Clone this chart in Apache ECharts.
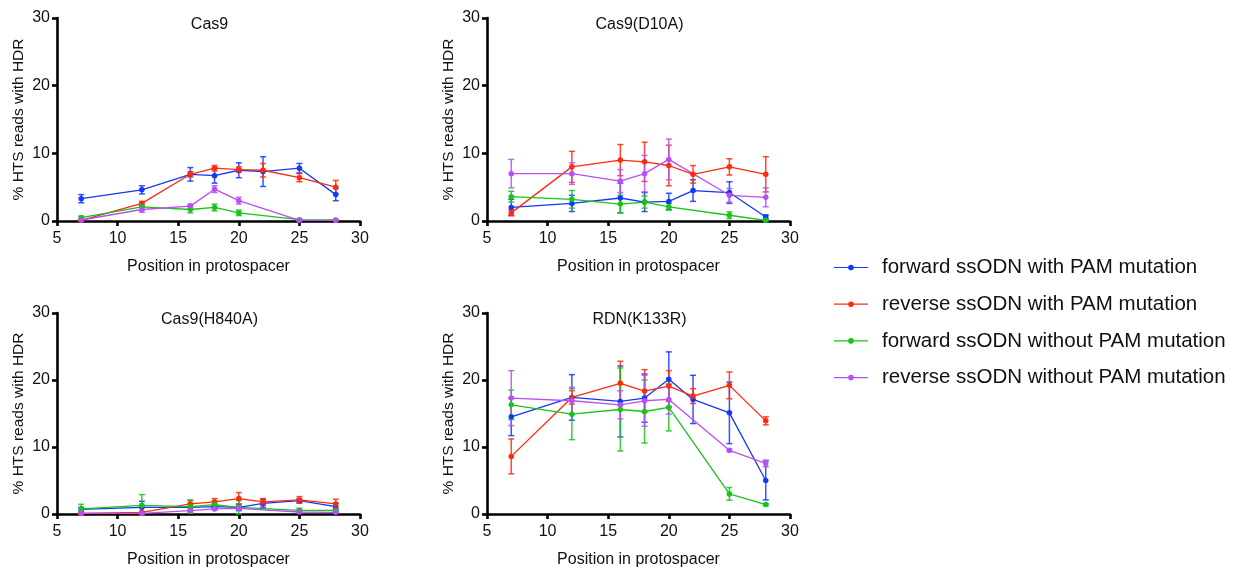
<!DOCTYPE html>
<html>
<head>
<meta charset="utf-8">
<script src="https://cdn.jsdelivr.net/npm/echarts@6/dist/echarts.min.js"></script>
<style>
  html, body { margin: 0; padding: 0; background: #fff; }
  #chart { width: 1237px; height: 569px; }
</style>
</head>
<body>
<div id="chart"></div>
<script>
// Positions along the protospacer that were tested
const positions = [7, 12, 16, 18, 20, 22, 25, 28];

const seriesNames = [
  'forward ssODN with PAM mutation',
  'reverse ssODN with PAM mutation',
  'forward ssODN without PAM mutation',
  'reverse ssODN without PAM mutation'
];

const panelTitles = ['Cas9', 'Cas9(D10A)', 'Cas9(H840A)', 'RDN(K133R)'];

const xTicks = [5, 10, 15, 20, 25, 30];
const yTicks = [0, 10, 20, 30];

// Mean % HTS reads with HDR (null = position not tested) and error (SD)
const cas9FwdPam = [3.3, 4.6, 6.9, 6.7, 7.5, 7.3, 7.8, 3.9];
const cas9FwdPamErr = [0.6, 0.6, 1.0, 1.1, 1.1, 2.2, 0.7, 0.9];
const cas9RevPam = [0.1, 2.6, 6.9, 7.8, 7.6, 7.5, 6.4, 5.0];
const cas9RevPamErr = [0.1, 0.3, 0.4, 0.4, 0.4, 1.0, 0.6, 1.0];
const cas9FwdNoPam = [0.5, 2.1, 1.7, 2.0, 1.2, null, 0.2, 0.15];
const cas9FwdNoPamErr = [0.2, 0.5, 0.5, 0.5, 0.4, null, 0.1, 0.05];
const cas9RevNoPam = [0.15, 1.7, 2.2, 4.7, 3.0, null, 0.1, 0.1];
const cas9RevNoPamErr = [0.1, 0.4, 0.3, 0.5, 0.5, null, 0.1, 0.05];

const d10aFwdPam = [2.0, 2.6, 3.4, 2.8, 2.9, 4.5, 4.2, 0.6];
const d10aFwdPamErr = [1.2, 1.2, 2.2, 1.4, 1.2, 1.6, 1.6, 0.3];
const d10aRevPam = [1.2, 8.0, 9.0, 8.75, 8.2, 6.9, 8.0, 6.9];
const d10aRevPamErr = [0.4, 2.3, 2.3, 2.9, 3.0, 1.3, 1.2, 2.6];
const d10aFwdNoPam = [3.6, 3.2, 2.5, 2.8, 2.1, null, 0.85, 0.1];
const d10aFwdNoPamErr = [0.8, 1.3, 1.3, 0.9, 0.5, null, 0.5, 0.1];
const d10aRevNoPam = [7.0, 7.0, 5.9, 7.0, 9.1, null, 3.8, 3.5];
const d10aRevNoPamErr = [2.1, 1.6, 1.7, 2.7, 3.0, null, 1.0, 1.4];

const h840aFwdPam = [0.7, 1.0, 1.0, 1.1, 1.0, 1.6, 2.0, 1.1];
const h840aFwdPamErr = [0.3, 0.9, 0.5, 0.4, 0.5, 0.6, 0.3, 0.5];
const h840aRevPam = [0.1, 0.25, 1.5, 1.8, 2.3, 1.8, 2.1, 1.5];
const h840aRevPamErr = [0.1, 0.1, 0.5, 0.5, 0.9, 0.5, 0.5, 0.7];
const h840aFwdNoPam = [0.75, 1.3, 1.1, 1.4, 1.0, null, 0.55, 0.55];
const h840aFwdNoPamErr = [0.7, 1.6, 1.0, 0.5, 1.0, null, 0.3, 0.2];
const h840aRevNoPam = [0.1, 0.1, 0.5, 0.75, 0.85, null, 0.3, 0.25];
const h840aRevNoPamErr = [0.1, 0.1, 0.2, 0.2, 0.2, null, 0.1, 0.1];

const rdnFwdPam = [14.5, 17.4, 16.8, 17.3, 20.1, 17.1, 15.1, 5.0];
const rdnFwdPamErr = [2.8, 3.4, 5.3, 3.6, 4.1, 3.6, 4.6, 2.9];
const rdnRevPam = [8.6, 17.4, 19.5, 18.35, 19.1, 17.6, 19.2, 13.9];
const rdnRevPamErr = [2.6, 1.0, 3.3, 3.2, 2.3, 1.1, 2.0, 0.6];
const rdnFwdNoPam = [16.3, 14.9, 15.6, 15.3, 15.9, null, 3.0, 1.4];
const rdnFwdNoPamErr = [2.2, 3.8, 6.2, 4.7, 3.5, null, 0.95, 0.15];
const rdnRevNoPam = [17.3, 16.9, 16.3, 16.9, 17.1, null, 9.5, 7.55];
const rdnRevNoPamErr = [4.1, 2.0, 2.1, 3.8, 2.2, null, 0.2, 0.5];

const panels = [
  [[cas9FwdPam, cas9FwdPamErr], [cas9RevPam, cas9RevPamErr], [cas9FwdNoPam, cas9FwdNoPamErr], [cas9RevNoPam, cas9RevNoPamErr]],
  [[d10aFwdPam, d10aFwdPamErr], [d10aRevPam, d10aRevPamErr], [d10aFwdNoPam, d10aFwdNoPamErr], [d10aRevNoPam, d10aRevNoPamErr]],
  [[h840aFwdPam, h840aFwdPamErr], [h840aRevPam, h840aRevPamErr], [h840aFwdNoPam, h840aFwdNoPamErr], [h840aRevNoPam, h840aRevNoPamErr]],
  [[rdnFwdPam, rdnFwdPamErr], [rdnRevPam, rdnRevPamErr], [rdnFwdNoPam, rdnFwdNoPamErr], [rdnRevNoPam, rdnRevNoPamErr]]
];

const colors = ['#1237ff', '#ff2a0d', '#17c417', '#b94ff2'];
const FONT = '"Liberation Sans", Arial, Helvetica, sans-serif';

// Panel plot areas (2 x 2 layout)
const gridBoxes = [
  { left: 57, top: 18 },
  { left: 487, top: 18 },
  { left: 57, top: 313 },
  { left: 487, top: 313 }
];
const PLOT_W = 303, PLOT_H = 203;

const grids = gridBoxes.map(b => ({ left: b.left, top: b.top, width: PLOT_W, height: PLOT_H, containLabel: false }));

const axisLine = { show: true, onZero: false, lineStyle: { color: '#000', width: 2.6 } };
const axisTick = { show: true, inside: false, length: 5, lineStyle: { color: '#000', width: 2.6 } };
const labelStyle = { color: '#111', fontSize: 16, fontFamily: FONT };

const xAxes = gridBoxes.map((b, i) => ({
  type: 'value', gridIndex: i, min: xTicks[0], max: xTicks[xTicks.length - 1], interval: 5,
  axisLine, axisTick, splitLine: { show: false },
  axisLabel: Object.assign({ margin: 10 }, labelStyle),
  name: 'Position in protospacer', nameLocation: 'middle', nameGap: 38,
  nameTextStyle: { color: '#111', fontSize: 16, fontFamily: FONT }
}));

const yAxes = gridBoxes.map((b, i) => ({
  type: 'value', gridIndex: i, min: yTicks[0], max: yTicks[yTicks.length - 1], interval: 10,
  axisLine, axisTick, splitLine: { show: false },
  axisLabel: Object.assign({ margin: 7 }, labelStyle),
  name: '% HTS reads with HDR', nameLocation: 'middle', nameGap: 30, nameRotate: 90,
  nameTextStyle: { color: '#111', fontSize: 15.5, fontFamily: FONT }
}));

const titles = gridBoxes.map((b, i) => ({
  text: panelTitles[i], left: b.left + PLOT_W / 2 - 4, top: b.top - 6, textAlign: 'center',
  textStyle: { color: '#111', fontSize: 16, fontWeight: 'normal', fontFamily: FONT }
}));

// Vertical error bar with end caps, positioned through the panel's axes
function errorBarRenderer(color) {
  return function (params, api) {
    const x = api.value(0);
    const top = api.coord([x, api.value(2)]);
    const bot = api.coord([x, api.value(1)]);
    const cap = 3;
    const style = { stroke: color, lineWidth: 1.5, opacity: 0.85 };
    return {
      type: 'group',
      children: [
        { type: 'line', shape: { x1: top[0], y1: top[1], x2: bot[0], y2: bot[1] }, style },
        { type: 'line', shape: { x1: top[0] - cap, y1: top[1], x2: top[0] + cap, y2: top[1] }, style },
        { type: 'line', shape: { x1: bot[0] - cap, y1: bot[1], x2: bot[0] + cap, y2: bot[1] }, style }
      ]
    };
  };
}

const series = [];
panels.forEach((panel, p) => {
  panel.forEach(([vals, errs], s) => {
    const pts = [];
    const bars = [];
    positions.forEach((x, k) => {
      if (vals[k] === null) return;
      pts.push([x, vals[k]]);
      bars.push([x, Math.max(0, vals[k] - errs[k]), vals[k] + errs[k]]);
    });
    series.push({
      type: 'custom', name: seriesNames[s], xAxisIndex: p, yAxisIndex: p,
      renderItem: errorBarRenderer(colors[s]),
      encode: { x: 0, y: [1, 2] },
      data: bars, z: 2, silent: true
    });
    series.push({
      type: 'line', name: seriesNames[s], xAxisIndex: p, yAxisIndex: p,
      data: pts, symbol: 'circle', symbolSize: 5.5, showSymbol: true,
      lineStyle: { color: colors[s], width: 1.3 },
      itemStyle: { color: colors[s] },
      z: 3, animation: false
    });
  });
});

const chart = echarts.init(document.getElementById('chart'), null, { renderer: 'canvas' });
chart.setOption({
  backgroundColor: '#fff',
  animation: false,
  color: colors,
  title: titles,
  grid: grids,
  xAxis: xAxes,
  yAxis: yAxes,
  legend: {
    data: seriesNames.map((n, i) => ({ name: n, icon: 'path://M0,4.4 H34 V5.6 H0 Z M17,2.2 A2.8,2.8 0 1 1 16.99,2.2 Z', itemStyle: { color: colors[i] } })),
    orient: 'vertical', left: 829, top: 252,
    itemWidth: 34, itemHeight: 10, itemGap: 15.7,
    textStyle: { color: '#111', fontSize: 20.5, fontFamily: FONT, padding: [0, 0, 0, 9] },
    selectedMode: false
  },
  series
});
</script>
</body>
</html>
